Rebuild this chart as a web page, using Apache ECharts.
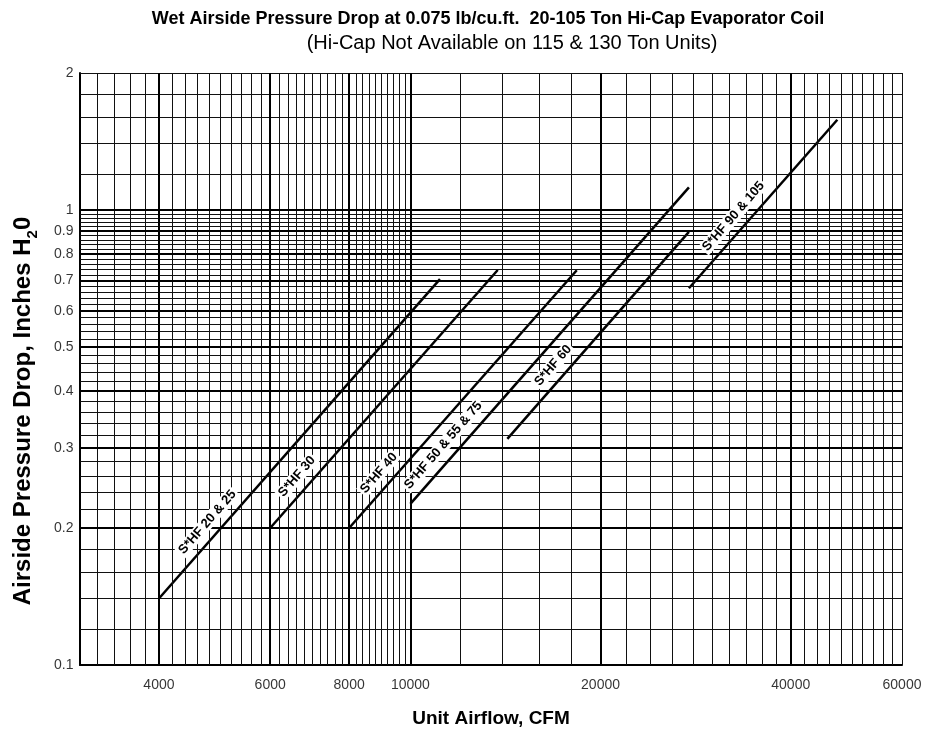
<!DOCTYPE html>
<html><head><meta charset="utf-8">
<script src="https://cdn.jsdelivr.net/npm/echarts@6/dist/echarts.min.js"></script>
<style>html,body{margin:0;padding:0;background:#fff}#c{width:932px;height:733px}</style>
</head><body><div id="c"></div>
<script>
// ---------- data ----------
const titleText = 'Wet Airside Pressure Drop at 0.075 lb/cu.ft.  20-105 Ton Hi-Cap Evaporator Coil';
const subtitleText = '(Hi-Cap Not Available on 115 & 130 Ton Units)';
const xAxisName = 'Unit Airflow, CFM';
const xRange = [3000, 60000];
const yRange = [0.1, 2];
const xTickLabels = [4000, 6000, 8000, 10000, 20000, 40000, 60000];
const yTickLabels = [0.1, 0.2, 0.3, 0.4, 0.5, 0.6, 0.7, 0.8, 0.9, 1, 2];
const xMajorGrid = [4000, 6000, 8000, 10000, 20000, 40000];
const yMajorGrid = [0.2, 0.3, 0.4, 0.5, 0.6, 0.7, 0.8, 0.9, 1];
const xMinorSegments = [[3000, 10000, 200], [10000, 60000, 2000]];
const yMinorSegments = [[0.1, 1, 0.02], [1, 2, 0.2]];

const coilNames = ['S*HF 20 & 25', 'S*HF 30', 'S*HF 40', 'S*HF 50 & 55 & 75', 'S*HF 60', 'S*HF 90 & 105'];
const airflowStart = [4000, 6000, 8000, 10000, 14240, 27600];
const airflowEnd   = [11140, 13750, 18340, 27600, 27600, 47400];
const dropStart    = [0.140, 0.200, 0.200, 0.226, 0.314, 0.673];
const dropEnd      = [0.705, 0.738, 0.737, 1.121, 0.895, 1.579];

// label placement (fraction along each line), style only
const labelFraction = [0.21, 0.164, 0.177, 0.156, 0.31, 0.371];

// ---------- helpers ----------
const FONT = '"Liberation Sans", Arial, Helvetica, sans-serif';
function gridValues(segs, majors) {
  const out = [];
  segs.forEach(([a, b, st]) => {
    const n = Math.round((b - a) / st);
    for (let k = 1; k < n; k++) {
      const v = +(a + k * st).toFixed(6);
      if (!majors.some(m => Math.abs(m - v) < 1e-9)) out.push(v);
    }
  });
  return out;
}
const xMinor = gridValues(xMinorSegments, xMajorGrid);
const yMinor = gridValues(yMinorSegments, yMajorGrid);
const minorStyle = {color: '#111', width: 1, type: 'solid'};
const majorStyle = {color: '#000', width: 2, type: 'solid'};

const gridLines = [];
xMinor.forEach(v => gridLines.push({xAxis: v, lineStyle: minorStyle}));
yMinor.forEach(v => gridLines.push({yAxis: v, lineStyle: minorStyle}));
gridLines.push({xAxis: xRange[1], lineStyle: minorStyle});
gridLines.push({yAxis: yRange[1], lineStyle: minorStyle});
xMajorGrid.forEach(v => gridLines.push({xAxis: v, lineStyle: majorStyle}));
yMajorGrid.forEach(v => gridLines.push({yAxis: v, lineStyle: majorStyle}));

function logLerp(a, b, t) { return Math.pow(10, Math.log10(a) + (Math.log10(b) - Math.log10(a)) * t); }

const series = [];
series.push({
  type: 'line', data: [], silent: true, z: 1,
  markLine: {silent: true, symbol: ['none', 'none'], label: {show: false}, animation: false, data: gridLines}
});
coilNames.forEach((name, i) => {
  const lx = logLerp(airflowStart[i], airflowEnd[i], labelFraction[i]);
  const ly = logLerp(dropStart[i], dropEnd[i], labelFraction[i]);
  series.push({
    type: 'line', name: name, z: 3, silent: true,
    data: [[airflowStart[i], dropStart[i]], [airflowEnd[i], dropEnd[i]]],
    symbol: 'none', lineStyle: {color: '#000', width: 2.5},
    markPoint: {
      symbol: 'circle', symbolSize: 1, itemStyle: {color: 'rgba(0,0,0,0)'}, silent: true, animation: false,
      data: [{coord: [lx, ly]}],
      label: {show: true, position: 'inside', formatter: name, rotate: 49, offset: [0, -14],
        fontFamily: FONT, fontWeight: 'bold', fontSize: 13, color: '#000',
        backgroundColor: '#fff', padding: [1, 2, 0, 2]}
    }
  });
});
series.push({
  type: 'scatter', silent: true, clip: false, z: 4, symbolSize: 1, itemStyle: {color: 'rgba(0,0,0,0)'},
  data: xTickLabels.map(v => [v, yRange[0]]),
  label: {show: true, position: 'bottom', distance: 13, formatter: p => String(p.value[0]),
    fontFamily: FONT, fontSize: 14, color: '#000'}
});
series.push({
  type: 'scatter', silent: true, clip: false, z: 4, symbolSize: 1, itemStyle: {color: 'rgba(0,0,0,0)'},
  data: yTickLabels.map(v => [xRange[0], v]),
  label: {show: true, position: 'left', distance: 6, formatter: p => String(p.value[1]),
    fontFamily: FONT, fontSize: 14, color: '#000'}
});

const chart = echarts.init(document.getElementById('c'));
chart.setOption({
  animation: false,
  backgroundColor: '#fff',
  grid: {left: 80, right: 30, top: 73, bottom: 63, containLabel: false},
  xAxis: {type: 'log', logBase: 10, min: xRange[0], max: xRange[1],
    name: xAxisName, nameLocation: 'middle', nameGap: 44,
    nameTextStyle: {fontFamily: FONT, fontWeight: 'bold', fontSize: 19, color: '#000'},
    axisLabel: {show: false}, axisTick: {show: false}, splitLine: {show: false},
    axisLine: {show: true, lineStyle: {color: '#000', width: 2}}},
  yAxis: {type: 'log', logBase: 10, min: yRange[0], max: yRange[1],
    axisLabel: {show: false}, axisTick: {show: false}, splitLine: {show: false},
    axisLine: {show: true, lineStyle: {color: '#000', width: 2}}},
  graphic: [
    {type: 'text', x: 488, y: 19, style: {text: titleText, fontFamily: FONT, fontWeight: 'bold', fontSize: 18, fill: '#000', align: 'center', verticalAlign: 'middle'}},
    {type: 'text', x: 512, y: 43, style: {text: subtitleText, fontFamily: FONT, fontSize: 20, fill: '#000', align: 'center', verticalAlign: 'middle'}},
    {type: 'text', x: 22, y: 411, rotation: Math.PI / 2,
      style: {text: '{a|Airside Pressure Drop, Inches H}{s|2}{a|0}', align: 'center', verticalAlign: 'middle', fill: '#000',
        rich: {a: {fontFamily: FONT, fontWeight: 'bold', fontSize: 24, lineHeight: 27, verticalAlign: 'bottom'},
               s: {fontFamily: FONT, fontWeight: 'bold', fontSize: 15, lineHeight: 18, verticalAlign: 'bottom', padding: [0, 0, -5, 0]}}}}
  ],
  series: series
});
</script></body></html>
